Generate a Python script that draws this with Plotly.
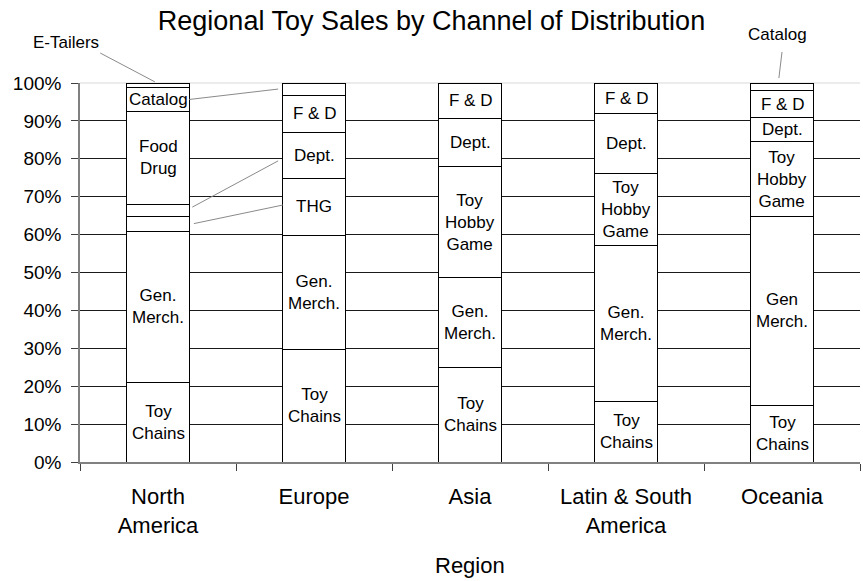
import plotly.graph_objects as go

regions = ["North<br>America", "Europe", "Asia", "Latin & South<br>America", "Oceania"]
channels = ["Toy Chains", "Gen. Merch.", "Toy Hobby Game", "Dept.", "Food Drug", "Catalog", "E-Tailers"]

toy_chains = [21.0, 29.8, 24.9, 16.0, 14.9]
gen_merch = [39.9, 29.9, 23.8, 41.0, 49.9]
toy_hobby_game = [4.0, 15.2, 29.2, 19.1, 19.7]
dept = [3.1, 12.1, 12.8, 15.9, 6.3]
food_drug = [24.5, 9.8, 9.3, 8.0, 7.3]
catalog = [6.3, 3.2, 0.0, 0.0, 1.9]
e_tailers = [1.2, 0.0, 0.0, 0.0, 0.0]

labels_toy_chains = ["Toy<br>Chains"] * 5
labels_gen_merch = ["Gen.<br>Merch.", "Gen.<br>Merch.", "Gen.<br>Merch.", "Gen.<br>Merch.", "Gen<br>Merch."]
labels_thg = ["", "THG", "Toy<br>Hobby<br>Game", "Toy<br>Hobby<br>Game", "Toy<br>Hobby<br>Game"]
labels_dept = ["", "Dept.", "Dept.", "Dept.", "Dept."]
labels_fd = ["Food<br>Drug", "F & D", "F & D", "F & D", "F & D"]
labels_catalog = ["Catalog", "", "", "", ""]
labels_et = ["", "", "", "", ""]

series = [toy_chains, gen_merch, toy_hobby_game, dept, food_drug, catalog, e_tailers]
series_labels = [labels_toy_chains, labels_gen_merch, labels_thg, labels_dept, labels_fd, labels_catalog, labels_et]

FONT = "Liberation Sans, Arial, sans-serif"
BAR_W = 0.4
LABEL_SIZE = 17
xs = list(range(len(regions)))

fig = go.Figure()
for name, vals in zip(channels, series):
    fig.add_trace(go.Bar(
        x=xs, y=[v if v > 0 else None for v in vals], name=name, width=BAR_W,
        marker=dict(color="white", line=dict(color="black", width=1)),
        hoverinfo="name+y",
    ))

# cumulative bottoms/centres per segment
bottoms = []
run = [0.0] * len(regions)
for vals in series:
    bottoms.append(run[:])
    run = [r + v for r, v in zip(run, vals)]
centres = [[b + v / 2 for b, v in zip(bs, vals)] for bs, vals in zip(bottoms, series)]

annotations = []
for vals, labs, cs in zip(series, series_labels, centres):
    for i, (v, lab, c) in enumerate(zip(vals, labs, cs)):
        if lab and v > 0:
            annotations.append(dict(x=i, y=c, xref="x", yref="y", text=lab, showarrow=False,
                                    font=dict(family=FONT, size=LABEL_SIZE, color="black"),
                                    xanchor="center", yanchor="middle"))

def xp(v):
    return (v + 0.5) / len(regions)

def yp(v):
    return v / 100.0

shapes = []
LEAD = dict(color="#8a8a8a", width=1)
# NA Catalog label -> Europe catalog segment
shapes.append(dict(type="line", xref="paper", yref="paper",
                   x0=xp(0 + BAR_W / 2), y0=yp(centres[5][0]),
                   x1=xp(1 - BAR_W / 2 - 0.03), y1=yp(centres[5][1]), line=LEAD))
# Europe Dept label -> NA Dept segment
shapes.append(dict(type="line", xref="paper", yref="paper",
                   x0=xp(1 - BAR_W / 2 - 0.03), y0=yp(centres[3][1] - 1.5),
                   x1=xp(0 + BAR_W / 2 + 0.02), y1=yp(centres[3][0] + 0.8), line=LEAD))
# Europe THG label -> NA THG segment
shapes.append(dict(type="line", xref="paper", yref="paper",
                   x0=xp(1 - BAR_W / 2), y0=yp(centres[2][1] + 0.5),
                   x1=xp(0 + BAR_W / 2 + 0.03), y1=yp(centres[2][0]), line=LEAD))
# E-Tailers external label
et_top = bottoms[6][0] + e_tailers[0]
shapes.append(dict(type="line", xref="paper", yref="paper",
                   x0=xp(-0.37), y0=yp(et_top + 7.9), x1=xp(-0.02), y1=yp(et_top + 0.3), line=LEAD))
annotations.append(dict(x=xp(-0.59), y=yp(et_top + 10.6), xref="paper", yref="paper", text="E-Tailers",
                        showarrow=False, font=dict(family=FONT, size=LABEL_SIZE, color="black"),
                        xanchor="center", yanchor="middle"))
# Oceania Catalog external label
oc_top = bottoms[5][4] + catalog[4]
shapes.append(dict(type="line", xref="paper", yref="paper",
                   x0=xp(4.0), y0=yp(oc_top + 8.2), x1=xp(3.98), y1=yp(oc_top + 1.3), line=LEAD))
annotations.append(dict(x=xp(3.97), y=yp(oc_top + 12.7), xref="paper", yref="paper", text="Catalog",
                        showarrow=False, font=dict(family=FONT, size=LABEL_SIZE, color="black"),
                        xanchor="center", yanchor="middle"))
# top border of plot area (light)
shapes.append(dict(type="line", xref="paper", yref="paper", x0=0, x1=1, y0=1, y1=1,
                   line=dict(color="#e6e6e6", width=1.5), layer="below"))

# x axis title
annotations.append(dict(x=0.5, y=-0.272, xref="paper", yref="paper", text="Region", showarrow=False,
                        font=dict(family=FONT, size=22, color="black"), xanchor="center", yanchor="middle"))

fig.update_layout(
    width=863, height=581,
    margin=dict(l=80, r=3, t=83, b=119),
    barmode="stack",
    showlegend=False,
    plot_bgcolor="white", paper_bgcolor="white",
    font=dict(family=FONT, color="black"),
    title=dict(text="Regional Toy Sales by Channel of Distribution", x=0.5, xref="container",
               y=1 - 21 / 581, yref="container", yanchor="middle", xanchor="center",
               font=dict(family=FONT, size=27, color="black")),
    xaxis=dict(range=[-0.5, len(regions) - 0.5], tickmode="array", tickvals=xs, ticktext=regions,
               ticks="", showgrid=False, zeroline=False,
               showline=True, linecolor="#808080", linewidth=1.5,
               tickfont=dict(family=FONT, size=22, color="black"), ticklabelstandoff=14,
               minor=dict(tickmode="linear", tick0=0.5, dtick=1, ticks="outside", ticklen=7,
                          tickcolor="#404040", tickwidth=1, showgrid=False)),
    yaxis=dict(range=[0, 100], tickmode="array", tickvals=list(range(0, 101, 10)),
               ticktext=[f"{v}%" for v in range(0, 101, 10)],
               ticks="outside", ticklen=7, tickcolor="#404040", showgrid=False, zeroline=False,
               showline=True, linecolor="#808080", linewidth=1.5, ticklabelstandoff=6,
               tickfont=dict(family=FONT, size=19, color="black"),
               minor=dict(tickmode="array", tickvals=list(range(10, 100, 10)), showgrid=True,
                          gridcolor="#1a1a1a", gridwidth=1, ticks="")),
    shapes=shapes,
    annotations=annotations,
)

fig.write_html("out.html", config={"displayModeBar": False},
               post_script="document.body.style.margin='0px';")
